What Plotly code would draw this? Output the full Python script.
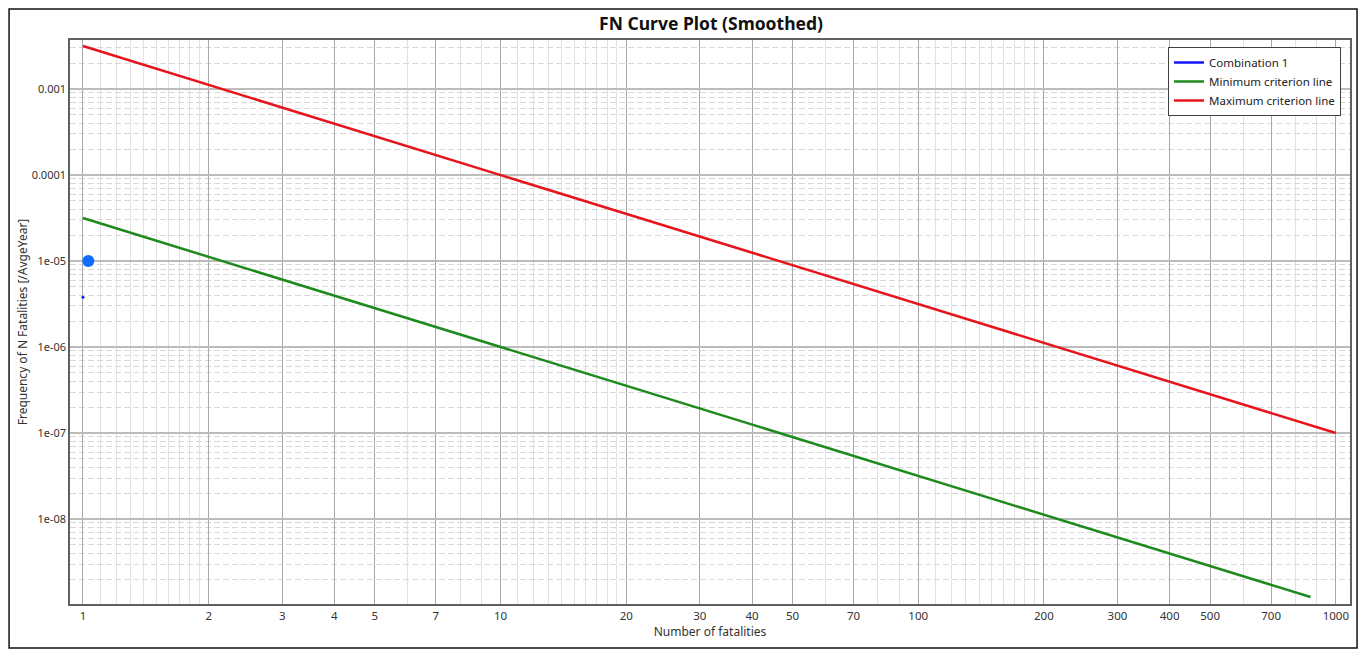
import plotly.graph_objects as go

# Data
max_n = [1, 1000]
max_f = [3.16e-3, 1.0e-7]
min_n = [1, 870]
min_f = [3.16e-5, 1.24e-9]
combo_n = [1]
combo_f = [3.8e-6]
highlight_n = [1.03]
highlight_f = [1.0e-5]

x_major = [1, 2, 3, 4, 5, 7, 10, 20, 30, 40, 50, 70, 100, 200, 300, 400, 500, 700, 1000]
x_major_text = [str(v) for v in x_major]
y_major = [1e-8, 1e-7, 1e-6, 1e-5, 1e-4, 1e-3]
y_major_text = ["1e-08", "1e-07", "1e-06", "1e-05", "0.0001", "0.001"]

x_minor = []
for d in [1, 10, 100]:
    for m in [1.1, 1.2, 1.3, 1.4, 1.5, 1.6, 1.7, 1.8, 1.9, 6, 8, 9]:
        x_minor.append(m * d)
y_minor = []
for e in range(-10, -1):
    for m in [2, 3, 4, 5, 6, 7, 8, 9]:
        y_minor.append(m * 10 ** e)

fig = go.Figure()
fig.add_trace(go.Scatter(x=combo_n, y=combo_f, mode="lines", name="Combination 1",
                         line=dict(color="#1414ff", width=2.5)))
fig.add_trace(go.Scatter(x=min_n, y=min_f, mode="lines", name="Minimum criterion line",
                         line=dict(color="#1e8a1e", width=2.5)))
fig.add_trace(go.Scatter(x=max_n, y=max_f, mode="lines", name="Maximum criterion line",
                         line=dict(color="#e8141c", width=2.5)))
fig.add_trace(go.Scatter(x=combo_n, y=combo_f, mode="markers", showlegend=False,
                         marker=dict(size=3, color="#1414ff")))
fig.add_trace(go.Scatter(x=highlight_n, y=highlight_f, mode="markers", showlegend=False,
                         marker=dict(size=12, color="#0f6cff")))

fig.update_xaxes(type="log", range=[-0.031, 3.034], tickmode="array", tickvals=x_major,
                 ticktext=x_major_text, showgrid=True, gridcolor="#a8a8a8", gridwidth=1,
                 ticks="", showline=True, linecolor="#606060", linewidth=1.5, mirror=True,
                 zeroline=False, tickfont=dict(size=11.5, color="#333333"),
                 title=dict(text="Number of fatalities", font=dict(size=12, color="#333333"), standoff=5),
                 minor=dict(tickmode="array", tickvals=x_minor, showgrid=True,
                            gridcolor="#e2e2e2", gridwidth=1, ticks=""))
fig.update_yaxes(type="log", range=[-8.988, -2.43], tickmode="array", tickvals=y_major,
                 ticktext=y_major_text, showgrid=True, gridcolor="#bcbcbc", gridwidth=1.5,
                 ticks="", showline=True, linecolor="#606060", linewidth=1.5, mirror=True,
                 zeroline=False, tickfont=dict(size=11, color="#333333"),
                 title=dict(text="Frequency of N Fatalities [/AvgeYear]",
                            font=dict(size=12, color="#333333"), standoff=1),
                 minor=dict(tickmode="array", tickvals=y_minor, showgrid=True,
                            gridcolor="#d8d8d8", griddash="6px,3px", gridwidth=1, ticks=""))

fig.update_layout(
    width=1352, height=641,
    margin=dict(l=62, r=8, t=32, b=45),
    paper_bgcolor="white", plot_bgcolor="white",
    font=dict(family="Noto Sans, Open Sans, sans-serif", size=12, color="#333333"),
    title=dict(text="<b>FN Curve Plot (Smoothed)</b>", x=0.52, xanchor="center",
               y=0.976, yanchor="middle", font=dict(size=17.5, color="#111111")),
    legend=dict(x=0.993, y=0.9876, xanchor="right", yanchor="top", bgcolor="white",
                bordercolor="#404040", borderwidth=1, font=dict(size=11.5, color="#222222"),
                tracegroupgap=0, itemwidth=30),
    showlegend=True,
    shapes=[dict(type="rect", xref="paper", yref="paper", x0=-0.0476, x1=1.0055,
                 y0=-0.078, y1=1.055, line=dict(color="#111111", width=1.5), layer="below")],
)

fig.write_html("out.html")
